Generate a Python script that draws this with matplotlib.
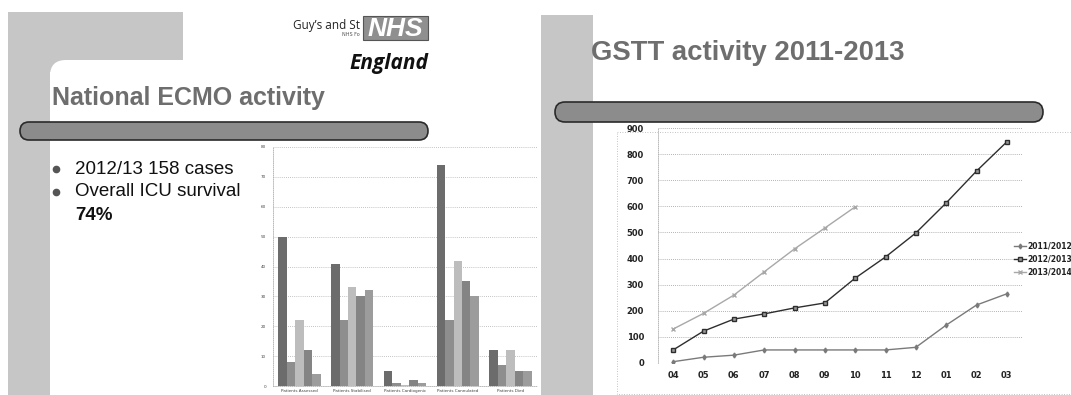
import numpy as np
import matplotlib
matplotlib.use("Agg")
import matplotlib.pyplot as plt
from matplotlib.patches import Rectangle, FancyBboxPatch

# national ECMO activity, five outcome groups, five series each
groups = ["Patients Assessed", "Patients Stabilised", "Patients Cardiogenic",
          "Patients Cannulated", "Patients Died"]
bar_s1 = [50, 41, 5, 74, 12]
bar_s2 = [8, 22, 1, 22, 7]
bar_s3 = [22, 33, 0.5, 42, 12]
bar_s4 = [12, 30, 2, 35, 5]
bar_s5 = [4, 32, 1, 30, 5]
bar_colors = ["#6c6c6c", "#8e8e8e", "#bdbdbd", "#848484", "#9c9c9c"]

# GSTT cumulative activity by month
months = ["04", "05", "06", "07", "08", "09", "10", "11", "12", "01", "02", "03"]
y2011 = [5, 22, 30, 50, 50, 50, 50, 50, 60, 145, 222, 265]
y2012 = [50, 122, 168, 188, 211, 230, 325, 406, 498, 613, 735, 847]
y2013 = [130, 190, 260, 349, 437, 517, 598]

W, H = 1071, 395
fig = plt.figure(figsize=(W / 100, H / 100), dpi=100)
fig.patch.set_facecolor("white")

# background layer in pixel coordinates
bg = fig.add_axes([0, 0, 1, 1], zorder=0)
bg.set_xlim(0, W)
bg.set_ylim(H, 0)
bg.axis("off")

side = "#c6c6c6"
band = "#8c8c8c"

# left slide frame
bg.add_patch(Rectangle((8, 12), 175, 60, color=side, lw=0))
bg.add_patch(Rectangle((8, 12), 42, 390, color=side, lw=0))
bg.add_patch(FancyBboxPatch((50, 60), 480, 400, boxstyle="round,pad=0,rounding_size=16",
                            fc="white", ec="none"))
bg.add_patch(FancyBboxPatch((20, 122), 408, 18, boxstyle="round,pad=0,rounding_size=9",
                            fc=band, ec="#2a2a2a", lw=1.2))

# right slide frame
bg.add_patch(Rectangle((541, 15), 52, 390, color=side, lw=0))
bg.add_patch(FancyBboxPatch((555, 102), 488, 20, boxstyle="round,pad=0,rounding_size=10",
                            fc=band, ec="#2a2a2a", lw=1.2))
bg.add_patch(Rectangle((617, 132), 470, 262, fc="none", ec="#b0b0b0", lw=0.6, ls=(0, (1, 2))))

# header logos
bg.text(360, 25, "Guy\u2019s and St", ha="right", va="center", fontsize=8.5,
        family="Open Sans", color="#222222")
bg.text(360, 35, "NHS Fo", ha="right", va="center", fontsize=3.5, color="#555555")
bg.add_patch(Rectangle((363, 16), 65, 24, fc="#8f8f8f", ec="#555555", lw=0.8))
bg.text(395.5, 28.5, "NHS", ha="center", va="center", fontsize=19, fontweight="bold",
        style="italic", color="white", family="Liberation Sans")
bg.text(428, 63, "England", ha="right", va="center", fontsize=15, fontweight="bold",
        style="italic", color="#111111", family="Open Sans")

# slide titles
bg.text(52, 98, "National ECMO activity", ha="left", va="center", fontsize=18,
        fontweight="bold", color="#6e6e6e", family="Liberation Sans")
bg.text(591, 53, "GSTT activity 2011-2013", ha="left", va="center", fontsize=19.8,
        fontweight="bold", color="#6e6e6e", family="Liberation Sans")

# bullet points
for yy in (169, 192):
    bg.plot(56, yy, "o", ms=4.5, color="#555555")
bg.text(75, 169, "2012/13 158 cases", ha="left", va="center", fontsize=13.5,
        family="Liberation Sans", color="#111111")
bg.text(75, 192, "Overall ICU survival", ha="left", va="center", fontsize=13.5,
        family="Liberation Sans", color="#111111")
bg.text(75, 215, "74%", ha="left", va="center", fontsize=13.5, fontweight="bold",
        family="Liberation Sans", color="#111111")

# bar chart
ax1 = fig.add_axes([273 / W, 1 - 386 / H, 264 / W, 239 / H], zorder=2)
ax1.patch.set_alpha(0)
x = np.arange(len(groups))
series = [bar_s1, bar_s2, bar_s3, bar_s4, bar_s5]
bw = 0.16
for i, (vals, c) in enumerate(zip(series, bar_colors)):
    ax1.bar(x + (i - 2) * bw, vals, bw, color=c, edgecolor="none", zorder=3)
ax1.set_xlim(-0.5, 4.5)
ax1.set_ylim(0, 80)
ax1.set_yticks(range(0, 81, 10))
ax1.set_xticks(x)
ax1.set_xticklabels(groups, fontsize=3)
ax1.tick_params(axis="y", labelsize=3, length=0, pad=5, colors="#444444")
ax1.tick_params(axis="x", length=0, pad=2, colors="#444444")
ax1.grid(axis="y", color="#b0b0b0", lw=0.6, ls=(0, (1, 1.5)), zorder=0)
for s in ("top", "right"):
    ax1.spines[s].set_visible(False)
for s in ("left", "bottom"):
    ax1.spines[s].set_color("#b0b0b0")
    ax1.spines[s].set_linestyle((0, (1, 1.5)))
    ax1.spines[s].set_linewidth(0.6)

# line chart
ax2 = fig.add_axes([658 / W, 1 - 363 / H, 364 / W, 235 / H], zorder=2)
ax2.patch.set_alpha(0)
xm = np.arange(len(months))
ax2.plot(xm, y2011, color="#7a7a7a", lw=1, marker="d", ms=2.5, label="2011/2012")
ax2.plot(xm, y2012, color="#2e2e2e", lw=1, marker="s", ms=3, mfc="#999999",
         mec="#2e2e2e", label="2012/2013")
ax2.plot(xm[:len(y2013)], y2013, color="#a8a8a8", lw=1, marker="x", ms=3,
         label="2013/2014")
ax2.set_xlim(-0.5, 11.5)
ax2.set_ylim(0, 900)
ax2.set_yticks(range(0, 901, 100))
ax2.set_xticks(xm)
ax2.set_xticklabels(months)
for lab in ax2.get_xticklabels() + ax2.get_yticklabels():
    lab.set_fontweight("bold")
ax2.tick_params(labelsize=6, length=0, colors="#222222")
ax2.tick_params(axis="y", pad=10)
ax2.tick_params(axis="x", pad=6)
ax2.grid(axis="y", color="#9a9a9a", lw=0.6, ls=(0, (1, 1.5)))
for s in ("top", "right", "bottom"):
    ax2.spines[s].set_visible(False)
ax2.spines["left"].set_color("#b0b0b0")
ax2.spines["left"].set_linestyle((0, (1, 1.5)))
ax2.spines["left"].set_linewidth(0.6)

leg = ax2.legend(loc="center left", bbox_to_anchor=(1014 / W, 1 - 259 / H),
                 bbox_transform=fig.transFigure, frameon=False, fontsize=5.5,
                 handlelength=1.6, handletextpad=0.15, labelspacing=0.55,
                 borderaxespad=0, borderpad=0)
for t in leg.get_texts():
    t.set_fontweight("bold")
    t.set_color("#222222")

fig.savefig("out.png", dpi=100)
